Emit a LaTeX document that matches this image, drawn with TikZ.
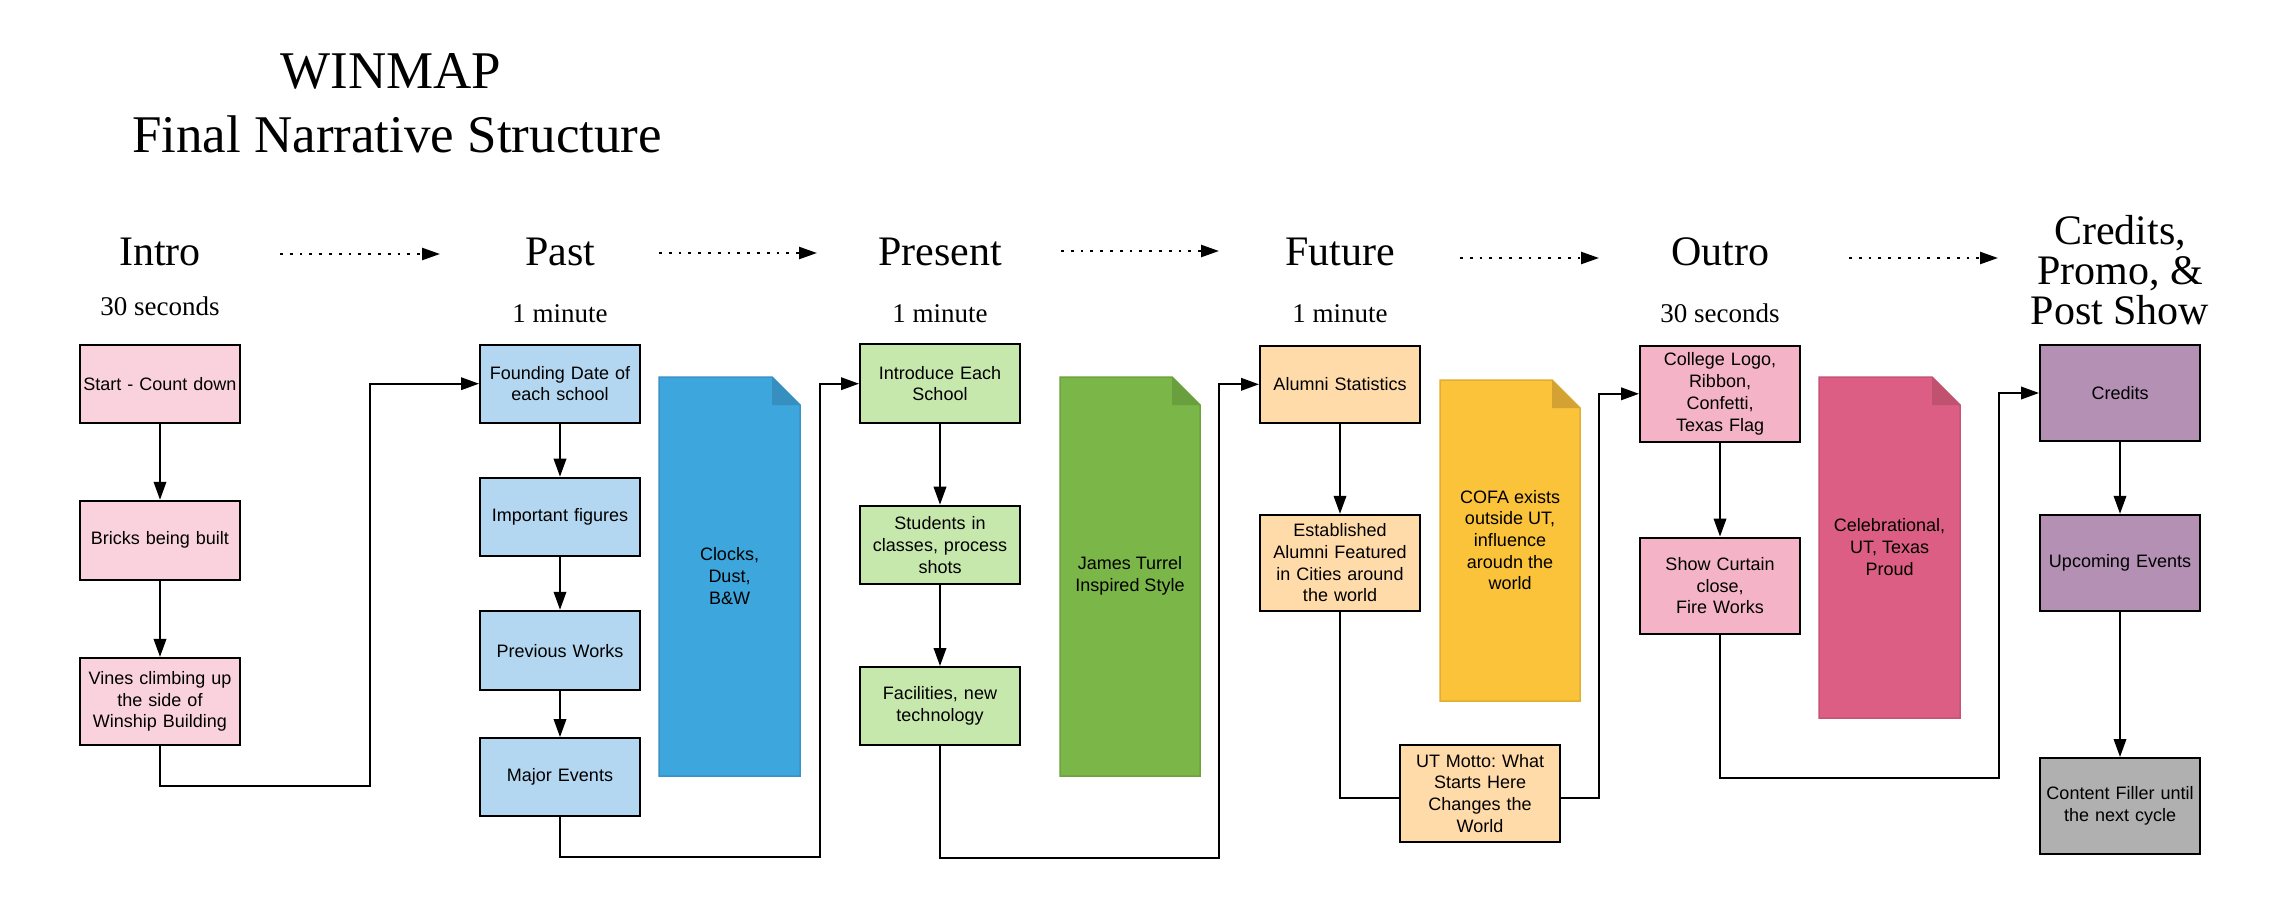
\documentclass[tikz,border=0pt]{standalone}
\usepackage{fontspec}
\setmainfont{Liberation Serif}
\newfontfamily\boxfont{Liberation Sans}
\usetikzlibrary{arrows.meta}
\frenchspacing

\definecolor{introfill}{HTML}{F9D2DE}
\definecolor{pastfill}{HTML}{B3D7F0}
\definecolor{presentfill}{HTML}{C7E8AC}
\definecolor{futurefill}{HTML}{FFDBA9}
\definecolor{outrofill}{HTML}{F4B3C7}
\definecolor{creditsfill}{HTML}{B390B4}
\definecolor{grayfill}{HTML}{B0B0B0}
\definecolor{bluedoc}{HTML}{3CA6DD}
\definecolor{bluedocline}{HTML}{3A92C6}
\definecolor{bluefold}{HTML}{378FBF}
\definecolor{greendoc}{HTML}{7AB648}
\definecolor{greendocline}{HTML}{6DA23F}
\definecolor{greenfold}{HTML}{6A9F3E}
\definecolor{yellowdoc}{HTML}{FBC33A}
\definecolor{yellowdocline}{HTML}{E0AE32}
\definecolor{yellowfold}{HTML}{D3A232}
\definecolor{pinkdoc}{HTML}{DC5E84}
\definecolor{pinkdocline}{HTML}{C65476}
\definecolor{pinkfold}{HTML}{C0526F}

\newcommand\docsheet[7]{%
  \filldraw[fill=#5,draw=#6,line width=1.5pt] (#1,#2) -- ({#3-28},#2) -- (#3,{#2+28}) -- (#3,#4) -- (#1,#4) -- cycle;
  \fill[#7] ({#3-28},#2) -- ({#3-28},{#2+28}) -- (#3,{#2+28}) -- cycle;
}

\begin{document}
\begin{tikzpicture}[x=1pt,y=-1pt,
  box/.style={draw=black,line width=2pt,minimum width=160pt,text width=156pt,inner sep=0pt,align=center,
              font=\boxfont\fontsize{18}{21.7}\selectfont},
  doctext/.style={align=center,inner sep=0pt,font=\boxfont\fontsize{18}{21.7}\selectfont},
  conn/.style={line width=2pt,-{Triangle[length=18pt,width=12.5pt]}},
  plainline/.style={line width=2pt},
  dotarrow/.style={line width=2.4pt,dash pattern=on 2.8pt off 7pt,-{Triangle[length=18pt,width=12pt]}},
  ttl/.style={anchor=base,inner sep=0pt,font=\fontsize{53}{64}\selectfont},
  hdr/.style={anchor=base,inner sep=0pt,font=\fontsize{42}{42}\selectfont},
  sub/.style={anchor=base,inner sep=0pt,font=\fontsize{27}{27}\selectfont}]

\fill[white] (0,0) rectangle (2280,898);
\useasboundingbox (0,0) rectangle (2280,898);

% titles
\node[ttl] (title1) at (391,88) {WINMAP};
\node[ttl] (title2) at (397,152) {Final Narrative Structure};

% headers
\node[hdr] (introH) at (160,265) {Intro};
\node[hdr] (pastH) at (560,265) {Past};
\node[hdr] (presentH) at (940,265) {Present};
\node[hdr] (futureH) at (1340,265) {Future};
\node[hdr] (outroH) at (1720,265) {Outro};
\node[hdr] (credH1) at (2120,244) {Credits,};
\node[hdr] (credH2) at (2120,284) {Promo, \&};
\node[hdr] (credH3) at (2120,324) {Post Show};

\node[sub] (introS) at (160,315) {30 seconds};
\node[sub] (pastS) at (560,322) {1 minute};
\node[sub] (presentS) at (940,322) {1 minute};
\node[sub] (futureS) at (1340,322) {1 minute};
\node[sub] (outroS) at (1720,322) {30 seconds};

% dotted arrows
\coordinate (d1a) at (280,254); \coordinate (d1b) at (440,254);
\coordinate (d2a) at (659,253); \coordinate (d2b) at (817,253);
\coordinate (d3a) at (1061,251); \coordinate (d3b) at (1219,251);
\coordinate (d4a) at (1460,258); \coordinate (d4b) at (1599,258);
\coordinate (d5a) at (1849,258); \coordinate (d5b) at (1998,258);
\draw[dotarrow] (d1a) -- (d1b);
\draw[dotarrow] (d2a) -- (d2b);
\draw[dotarrow] (d3a) -- (d3b);
\draw[dotarrow] (d4a) -- (d4b);
\draw[dotarrow] (d5a) -- (d5b);

% documents
\docsheet{659}{377}{800}{776}{bluedoc}{bluedocline}{bluefold}
\node[doctext] (blueT) at (729.5,576) {Clocks,\\Dust,\\B\&W};
\docsheet{1060}{377}{1200}{776}{greendoc}{greendocline}{greenfold}
\node[doctext] (greenT) at (1130,576) {James Turrel\\Inspired Style};
\docsheet{1440}{380}{1580}{701}{yellowdoc}{yellowdocline}{yellowfold}
\node[doctext] (yellowT) at (1510,540) {COFA exists\\outside UT,\\influence\\aroudn the\\world};
\docsheet{1819}{377}{1960}{718}{pinkdoc}{pinkdocline}{pinkfold}
\node[doctext] (pinkT) at (1889.5,547) {Celebrational,\\UT, Texas\\Proud};

% Intro column
\node[box,fill=introfill,minimum height=78pt] (start) at (160,383.7) {Start - Count down};
\node[box,fill=introfill,minimum height=79pt] (bricks) at (160,540.3) {Bricks being built};
\node[box,fill=introfill,minimum height=87pt] (vines) at (160,701.4) {Vines climbing up\\the side of\\Winship Building};

% Past column
\node[box,fill=pastfill,minimum height=78pt] (founding) at (560,383.7) {Founding Date of\\each school};
\node[box,fill=pastfill,minimum height=78.6pt] (important) at (560,517) {Important figures};
\node[box,fill=pastfill,minimum height=79.7pt] (previous) at (560,650.6) {Previous Works};
\node[box,fill=pastfill,minimum height=77.5pt] (major) at (560,776.8) {Major Events};

% Present column
\node[box,fill=presentfill,minimum height=78.5pt] (introduce) at (940,383.7) {Introduce Each\\School};
\node[box,fill=presentfill,minimum height=78.6pt] (students) at (940,545) {Students in\\classes, process\\shots};
\node[box,fill=presentfill,minimum height=78pt] (facilities) at (940,706) {Facilities, new\\technology};

% Future column
\node[box,fill=futurefill,minimum height=77.4pt] (alumni) at (1340,384.3) {Alumni Statistics};
\node[box,fill=futurefill,minimum height=96pt] (established) at (1340,562.8) {Established\\Alumni Featured\\in Cities around\\the world};
\node[box,fill=futurefill,minimum height=96.7pt] (motto) at (1480,793.3) {UT Motto: What\\Starts Here\\Changes the\\World};

% Outro column
\node[box,fill=outrofill,minimum height=96.4pt] (college) at (1720,393.8) {College Logo,\\Ribbon,\\Confetti,\\Texas Flag};
\node[box,fill=outrofill,minimum height=96pt] (curtain) at (1720,585.6) {Show Curtain\\close,\\Fire Works};

% Credits column
\node[box,fill=creditsfill,minimum height=96pt] (credits) at (2120,393) {Credits};
\node[box,fill=creditsfill,minimum height=96pt] (upcoming) at (2120,562.8) {Upcoming Events};
\node[box,fill=grayfill,minimum height=96pt] (content) at (2120,806) {Content Filler until\\the next cycle};

% vertical arrows
\draw[conn] (start) -- (bricks);
\draw[conn] (bricks) -- (vines);
\draw[conn] (founding) -- (important);
\draw[conn] (important) -- (previous);
\draw[conn] (previous) -- (major);
\draw[conn] (introduce) -- (students);
\draw[conn] (students) -- (facilities);
\draw[conn] (alumni) -- (established);
\draw[conn] (college) -- (curtain);
\draw[conn] (credits) -- (upcoming);
\draw[conn] (upcoming) -- (content);

% column-to-column connectors
\coordinate (c1) at (370,786);
\coordinate (c2) at (820,857);
\coordinate (c3) at (1219,858);
\coordinate (c4) at (1599,797.7);
\coordinate (c5) at (1999,778);
\draw[conn] (vines.south) |- (c1) |- (founding.west);
\draw[conn] (major.south) |- (c2) |- (introduce.west);
\draw[conn] (facilities.south) |- (c3) |- (alumni.west);
\draw[plainline] (established.south) |- ([yshift=-4.4pt]motto.west);
\draw[conn] ([yshift=-4.4pt]motto.east) -- (c4) |- (college.west);
\draw[conn] (curtain.south) |- (c5) |- (credits.west);

\end{tikzpicture}
\end{document}
